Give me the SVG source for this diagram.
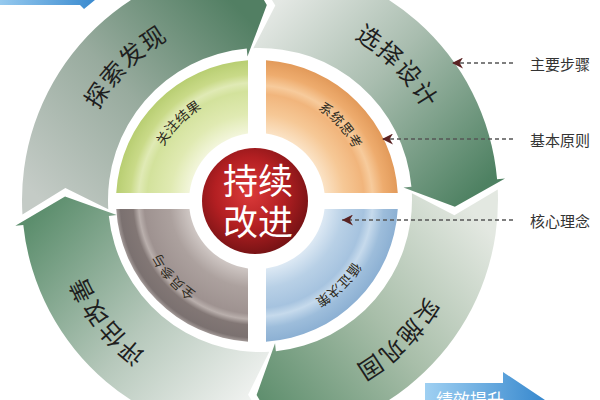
<svg xmlns="http://www.w3.org/2000/svg" xmlns:xlink="http://www.w3.org/1999/xlink" width="600" height="400" viewBox="0 0 600 400">
<defs>
<style>
.outer{font-family:"Noto Sans CJK SC","Noto Sans",sans-serif;font-size:24px;fill:#1e1e1e;letter-spacing:3px;dominant-baseline:central}
.inner{font-family:"Noto Sans CJK SC","Noto Sans",sans-serif;font-size:13.5px;fill:#2e2a20;letter-spacing:1px;dominant-baseline:central}
.lbl{font-family:"Noto Sans CJK SC","Noto Sans",sans-serif;font-size:15px;fill:#333;dominant-baseline:central}
.ctr{font-family:"Noto Sans CJK SC","Noto Sans",sans-serif;font-size:35px;fill:#fff;text-anchor:middle}
.dash{stroke:#555;stroke-width:1.5;stroke-dasharray:4 3;fill:none}
</style>
<linearGradient id="gTL" gradientUnits="userSpaceOnUse" x1="40" y1="200" x2="240" y2="10"><stop offset="0" stop-color="#c4cbc6"/><stop offset="0.5" stop-color="#98ab9e"/><stop offset="1" stop-color="#527f63"/></linearGradient>
<linearGradient id="gTR" gradientUnits="userSpaceOnUse" x1="270" y1="10" x2="470" y2="200"><stop offset="0" stop-color="#e4e8e4"/><stop offset="0.45" stop-color="#a9bdaf"/><stop offset="1" stop-color="#4e8162"/></linearGradient>
<linearGradient id="gBR" gradientUnits="userSpaceOnUse" x1="480" y1="220" x2="260" y2="400"><stop offset="0" stop-color="#e3e8e1"/><stop offset="0.5" stop-color="#a8bea9"/><stop offset="1" stop-color="#5f8f6e"/></linearGradient>
<linearGradient id="gBL" gradientUnits="userSpaceOnUse" x1="250" y1="400" x2="40" y2="210"><stop offset="0" stop-color="#f0f2f0"/><stop offset="0.45" stop-color="#b6c8bb"/><stop offset="1" stop-color="#5c8e6d"/></linearGradient>
<radialGradient id="qG" gradientUnits="userSpaceOnUse" cx="257" cy="201" r="141"><stop offset="0.48" stop-color="#f3f6dc"/><stop offset="0.62" stop-color="#e0eab2"/><stop offset="0.78" stop-color="#d3e29c"/><stop offset="0.84" stop-color="#e0eab5"/><stop offset="0.9" stop-color="#c9da88"/><stop offset="1" stop-color="#b8ce72"/></radialGradient>
<radialGradient id="qO" gradientUnits="userSpaceOnUse" cx="257" cy="201" r="141"><stop offset="0.48" stop-color="#fbe3c6"/><stop offset="0.62" stop-color="#f6c896"/><stop offset="0.76" stop-color="#f1b57c"/><stop offset="0.82" stop-color="#f7cb9c"/><stop offset="0.9" stop-color="#eeac6e"/><stop offset="1" stop-color="#e29a5a"/></radialGradient>
<radialGradient id="qB" gradientUnits="userSpaceOnUse" cx="257" cy="201" r="141"><stop offset="0.48" stop-color="#dde9f4"/><stop offset="0.62" stop-color="#b8d0e6"/><stop offset="0.76" stop-color="#a6c3df"/><stop offset="0.82" stop-color="#c6daec"/><stop offset="0.9" stop-color="#9dbddb"/><stop offset="1" stop-color="#8cb0d3"/></radialGradient>
<radialGradient id="qY" gradientUnits="userSpaceOnUse" cx="257" cy="201" r="141"><stop offset="0.48" stop-color="#cfc7c4"/><stop offset="0.62" stop-color="#aca19e"/><stop offset="0.8" stop-color="#9e9290"/><stop offset="0.84" stop-color="#b9afac"/><stop offset="0.88" stop-color="#827775"/><stop offset="0.97" stop-color="#7b7170"/><stop offset="1" stop-color="#a39a98"/></radialGradient>
<radialGradient id="red" cx="0.45" cy="0.42" r="0.6"><stop offset="0" stop-color="#dc3b3a"/><stop offset="0.55" stop-color="#b31f22"/><stop offset="1" stop-color="#741214"/></radialGradient>
<linearGradient id="blu" x1="0" y1="0" x2="1" y2="0"><stop offset="0" stop-color="#9fd0f2"/><stop offset="1" stop-color="#2a7fc9"/></linearGradient>
<marker id="ah" viewBox="0 0 10 10" refX="10" refY="5" markerWidth="11" markerHeight="11" markerUnits="userSpaceOnUse" orient="auto"><path d="M0,0 L10,5 L0,10 L3,5 Z" fill="#5a2222"/></marker>
<path id="tpTL" d="M64.75,182.92 A196,196 0 0 1 242.92,4.75"/>
<path id="tpTR" d="M280.70,3.08 A198,198 0 0 1 457.52,186.19"/>
<path id="tpBR" d="M462.07,219.46 A203,203 0 0 1 275.93,402.37"/>
<path id="tpBL" d="M218.00,397.59 A202,202 0 0 1 58.12,192.95"/>
<path id="ipG" d="M143.43,191.06 A114,114 0 0 1 247.06,87.43"/>
<path id="ipO" d="M273.14,86.13 A116,116 0 0 1 372.93,196.95"/>
<path id="ipB" d="M376.34,213.54 A120,120 0 0 1 265.37,320.71"/>
<path id="ipY" d="M240.86,315.87 A116,116 0 0 1 141.07,205.05"/>
</defs>
<rect width="600" height="400" fill="#fff"/>

<g id="arrow-top-left">
<path d="M-10,-30 L80,-30 L80,-40 L112,-14 L84,9 L80,5 L-10,5 Z" fill="url(#blu)"/>
</g>

<g id="band-explore">
<path d="M22.44,214.53 A238,238 0 0 1 239.26,-37.09 L238.56,-45.06 L266.81,5.12 L247.45,56.55 L246.75,48.58 A152,152 0 0 0 108.28,209.28 L65.36,188.10 Z" fill="url(#gTL)"/>
<text class="outer"><textPath href="#tpTL" startOffset="50%" text-anchor="middle">探索发现</textPath></text>
</g>
<g id="band-design">
<path d="M249.62,-37.77 A238,238 0 0 1 497.09,179.26 L505.06,178.56 L454.88,206.81 L403.45,187.45 L411.42,186.75 A152,152 0 0 0 253.37,48.14 L275.30,5.60 Z" fill="url(#gTR)"/>
<text class="outer"><textPath href="#tpTR" startOffset="50%" text-anchor="middle">选择设计</textPath></text>
</g>
<g id="band-implement">
<path d="M497.77,189.62 A238,238 0 0 1 284.88,436.70 L285.71,444.65 L256.60,394.97 L275.05,343.21 L275.89,351.17 A152,152 0 0 0 411.86,193.37 L454.40,215.30 Z" fill="url(#gBR)"/>
<text class="outer"><textPath href="#tpBR" startOffset="50%" text-anchor="middle">实施巩固</textPath></text>
</g>
<g id="band-evaluate">
<path d="M274.53,437.56 A238,238 0 0 1 23.30,224.88 L15.35,225.71 L65.03,196.60 L116.79,215.05 L108.83,215.89 A152,152 0 0 0 269.28,351.72 L248.10,394.64 Z" fill="url(#gBL)"/>
<text class="outer"><textPath href="#tpBL" startOffset="50%" text-anchor="middle">评估改善</textPath></text>
</g>

<g id="q-results">
<path d="M248,60.29 A141,141 0 0 0 116.23,193 L189.47,193 A68,68 0 0 1 248,133.60 Z" fill="url(#qG)"/>
<text class="inner"><textPath href="#ipG" startOffset="50%" text-anchor="middle">关注结果</textPath></text>
</g>
<g id="q-systems">
<path d="M266,60.29 A141,141 0 0 1 397.77,193 L324.53,193 A68,68 0 0 0 266,133.60 Z" fill="url(#qO)"/>
<text class="inner"><textPath href="#ipO" startOffset="50%" text-anchor="middle">系统思考</textPath></text>
</g>
<g id="q-evidence">
<path d="M397.77,209 A141,141 0 0 1 266,341.71 L266,268.40 A68,68 0 0 0 324.53,209 Z" fill="url(#qB)"/>
<text class="inner"><textPath href="#ipB" startOffset="50%" text-anchor="middle">循证决策</textPath></text>
</g>
<g id="q-involve">
<path d="M248,341.71 A141,141 0 0 1 116.23,209 L189.47,209 A68,68 0 0 0 248,268.40 Z" fill="url(#qY)"/>
<text class="inner"><textPath href="#ipY" startOffset="50%" text-anchor="middle">全员参与</textPath></text>
</g>

<g id="center">
<circle cx="255" cy="201" r="53" fill="url(#red)"/>
<text class="ctr" x="258" y="194">持续</text>
<text class="ctr" x="258" y="235">改进</text>
</g>

<g id="connectors">
<line class="dash" x1="513" y1="63" x2="452" y2="63" marker-end="url(#ah)"/>
<line class="dash" x1="513" y1="139" x2="382" y2="139" marker-end="url(#ah)"/>
<line class="dash" x1="513" y1="220" x2="342" y2="220" marker-end="url(#ah)"/>
</g>

<g id="labels">
<text class="lbl" x="530" y="63">主要步骤</text>
<text class="lbl" x="530" y="139">基本原则</text>
<text class="lbl" x="530" y="220">核心理念</text>
</g>

<g id="arrow-bottom-right">
<path d="M425,383 L503,383 L503,372 L560,410 L503,440 L503,425 L425,425 Z" fill="url(#blu)"/>
<text x="470" y="406" font-family="Noto Sans CJK SC, sans-serif" font-size="17" fill="#fff" text-anchor="middle">绩效提升</text>
</g>
</svg>
